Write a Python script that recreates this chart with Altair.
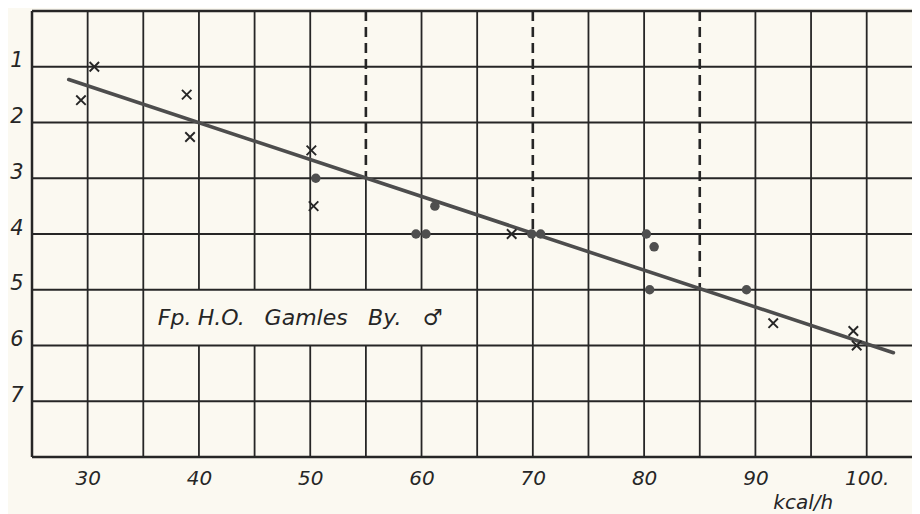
import altair as alt
import pandas as pd

# ---- data ----
cross_x = [29.4, 30.6, 38.9, 39.2, 50.1, 50.3, 68.1, 91.6, 98.8, 99.1]
cross_y = [1.6, 1.0, 1.5, 2.26, 2.5, 3.5, 4.0, 5.6, 5.74, 6.0]
dot_x = [50.5, 59.5, 60.4, 61.2, 69.9, 70.7, 80.2, 80.9, 80.5, 89.2]
dot_y = [3.0, 4.0, 4.0, 3.5, 4.0, 4.0, 4.0, 4.23, 5.0, 5.0]
fit_x = [28.3, 102.4]
fit_y = [1.23, 6.13]

x_ticks = [30, 40, 50, 60, 70, 80, 90, 100]
y_ticks = [1, 2, 3, 4, 5, 6, 7]
grid_x = [30, 35, 40, 45, 50, 55, 60, 65, 70, 75, 80, 85, 90, 95, 100]
grid_y = [1, 2, 3, 4, 5, 6, 7]
dashed_x = [55, 70, 85]
dashed_to = [3, 4, 5]
label_gap_x = [40, 45, 50, 55, 60]
label_gap_y = [5, 6]

note_words = ["Fp.", "H.O.", "Gamles", "By.", "\u2642"]
note_word_x = [36.3, 39.9, 45.9, 55.2, 60.1]
unit_label = "kcal/h"

X_MIN, X_MAX = 25, 104.07
Y_MIN, Y_MAX = 0, 8

FONT = "DejaVu Sans"
INK = "#262626"
BG = "#fbf9f1"

# ---- build segment tables ----
solid, dashed = [], []
for gx in grid_x:
    start = Y_MIN
    if gx in dashed_x:
        d = dashed_to[dashed_x.index(gx)]
        dashed.append({"x": gx, "y": Y_MIN, "y2": d})
        start = d
    if gx in label_gap_x:
        if start < label_gap_y[0]:
            solid.append({"x": gx, "y": start, "y2": label_gap_y[0]})
        solid.append({"x": gx, "y": label_gap_y[1], "y2": Y_MAX})
    else:
        solid.append({"x": gx, "y": start, "y2": Y_MAX})

hlines = pd.DataFrame({"y": grid_y, "x": X_MIN, "x2": X_MAX})
border_h = pd.DataFrame({"y": [Y_MIN, Y_MAX], "x": X_MIN, "x2": X_MAX})
border_v = pd.DataFrame({"x": [X_MIN], "y": [Y_MIN], "y2": [Y_MAX]})

xs = alt.Scale(domain=[X_MIN, X_MAX], nice=False, zero=False)
ys = alt.Scale(domain=[Y_MIN, Y_MAX], nice=False, zero=False, reverse=True)

xaxis = alt.Axis(values=x_ticks, domain=False, ticks=False, grid=False, title=None,
                 labelFont=FONT, labelFontStyle="italic", labelFontSize=20,
                 labelColor=INK, labelPadding=11,
                 labelExpr="datum.value == 100 ? '100.' : datum.label")
yaxis = alt.Axis(values=y_ticks, domain=False, ticks=False, grid=False, title=None,
                 labelFont=FONT, labelFontStyle="italic", labelFontSize=21,
                 labelColor=INK, labelPadding=9, labelBaseline="alphabetic")


def X(f):
    return alt.X(f, type="quantitative", scale=xs, axis=xaxis)


def Y(f):
    return alt.Y(f, type="quantitative", scale=ys, axis=yaxis)


v_solid = alt.Chart(pd.DataFrame(solid)).mark_rule(color=INK, strokeWidth=1.8).encode(
    x=X("x"), y=Y("y"), y2="y2")
v_dash = alt.Chart(pd.DataFrame(dashed)).mark_rule(
    color=INK, strokeWidth=2.6, strokeDash=[10, 6]).encode(x=X("x"), y=Y("y"), y2="y2")
h_lines = alt.Chart(hlines).mark_rule(color=INK, strokeWidth=1.8).encode(
    y=Y("y"), x=X("x"), x2="x2")
b_h = alt.Chart(border_h).mark_rule(color=INK, strokeWidth=2.5).encode(
    y=Y("y"), x=X("x"), x2="x2")
b_v = alt.Chart(border_v).mark_rule(color=INK, strokeWidth=2.5).encode(
    x=X("x"), y=Y("y"), y2="y2")

fit = alt.Chart(pd.DataFrame({"x": fit_x, "y": fit_y})).mark_line(
    color="#4d4d4d", strokeWidth=3.6, strokeCap="round").encode(x=X("x"), y=Y("y"))

dots = alt.Chart(pd.DataFrame({"x": dot_x, "y": dot_y})).mark_point(
    shape="circle", filled=True, size=90, color="#4f4f4f", opacity=1).encode(
    x=X("x"), y=Y("y"))

crosses = alt.Chart(pd.DataFrame({"x": cross_x, "y": cross_y})).mark_point(
    shape="M-1,-1L1,1M-1,1L1,-1", size=90, stroke="#262626", strokeWidth=1.9,
    filled=False, opacity=1).encode(x=X("x"), y=Y("y"))

note = alt.Chart(pd.DataFrame({"x": note_word_x, "w": note_words, "y": 5.64})).mark_text(
    font=FONT, fontStyle="italic", fontSize=22, color=INK, align="left",
    baseline="alphabetic").encode(x=X("x"), y=Y("y"), text="w")

unit = alt.Chart(pd.DataFrame({"x": [94.3], "y": [8.83], "t": [unit_label]})).mark_text(
    font=FONT, fontStyle="italic", fontSize=20, color=INK, align="center",
    baseline="middle").encode(x=X("x"), y=Y("y"), text="t")

chart = alt.layer(v_solid, v_dash, h_lines, b_h, b_v, fit, dots, crosses, note, unit).properties(
    width=880, height=446,
    autosize=alt.AutoSizeParams(type="none"),
    padding={"left": 24, "top": 3, "right": 0, "bottom": 57},
    background=BG,
).configure_view(strokeWidth=0)

chart.save("out.html", embed_options={"renderer": "svg", "actions": False})
